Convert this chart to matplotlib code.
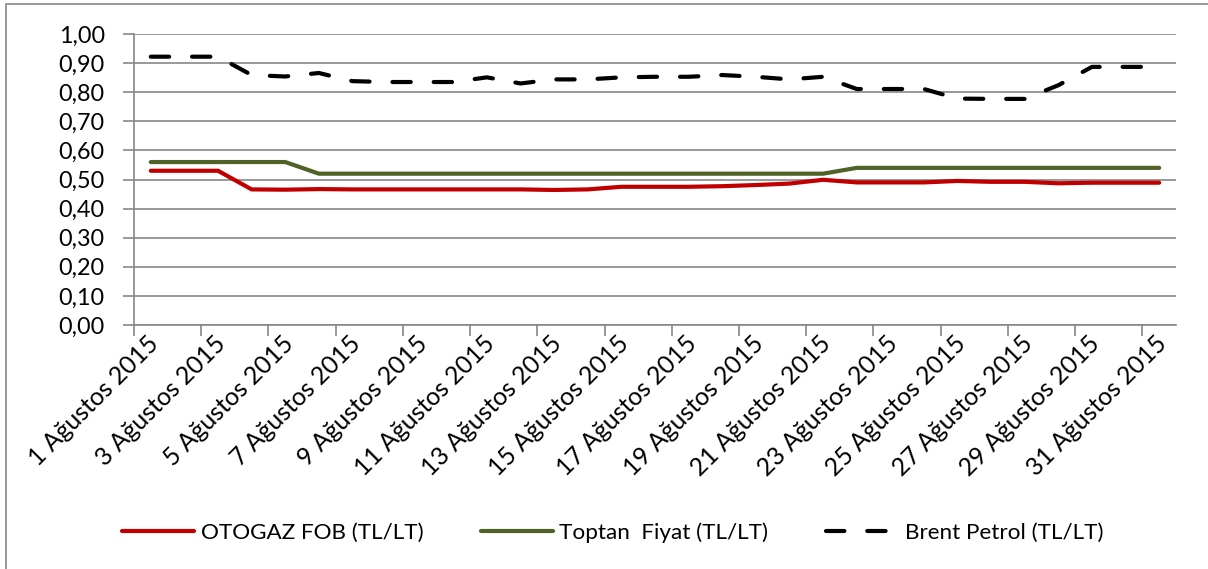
import matplotlib
matplotlib.use('Agg')
import matplotlib.pyplot as plt
import matplotlib.transforms as mtransforms
from matplotlib.lines import Line2D
from matplotlib.patches import Rectangle
from matplotlib.ticker import FuncFormatter
import numpy as np

plt.rcParams['font.family'] = ['Lato', 'DejaVu Sans']

days = list(range(1, 32))
categories = [f"{d} Ağustos 2015" for d in days]

otogaz = [0.530, 0.530, 0.530, 0.466, 0.465, 0.467, 0.466, 0.466, 0.466, 0.466,
          0.466, 0.466, 0.464, 0.466, 0.475, 0.475, 0.475, 0.477, 0.481, 0.486,
          0.499, 0.490, 0.490, 0.490, 0.495, 0.492, 0.492, 0.487, 0.489, 0.489,
          0.489]
toptan = [0.56, 0.56, 0.56, 0.56, 0.56, 0.52, 0.52, 0.52, 0.52, 0.52,
          0.52, 0.52, 0.52, 0.52, 0.52, 0.52, 0.52, 0.52, 0.52, 0.52,
          0.52, 0.54, 0.54, 0.54, 0.54, 0.54, 0.54, 0.54, 0.54, 0.54,
          0.54]
brent = [0.922, 0.922, 0.922, 0.859, 0.854, 0.866, 0.838, 0.835, 0.835, 0.835,
         0.851, 0.830, 0.844, 0.844, 0.851, 0.853, 0.853, 0.859, 0.853, 0.844,
         0.853, 0.811, 0.811, 0.811, 0.778, 0.777, 0.777, 0.824, 0.887, 0.887,
         0.887]

series_names = ["OTOGAZ FOB (TL/LT)", "Toptan  Fiyat (TL/LT)", "Brent Petrol (TL/LT)"]
yticks = [0.0, 0.1, 0.2, 0.3, 0.4, 0.5, 0.6, 0.7, 0.8, 0.9, 1.0]

W, H = 1208, 569
fig = plt.figure(figsize=(W / 100, H / 100), dpi=100)
ax = fig.add_axes([134 / W, 1 - 325 / H, (1176 - 134) / W, (325 - 34) / H])

x = np.arange(len(days))
lw = 3.0
RED = '#C00000'
GREEN = '#4F6228'
GRAY = '#878787'

l1, = ax.plot(x, otogaz, color=RED, lw=lw, solid_capstyle='round', solid_joinstyle='round', zorder=3)
l2, = ax.plot(x, toptan, color=GREEN, lw=lw, solid_capstyle='round', solid_joinstyle='round', zorder=3)
l3, = ax.plot(x, brent, color='black', lw=lw, dash_capstyle='round', dash_joinstyle='round', zorder=3)
l3.set_dashes((4.4, 5.5))

ax.set_xlim(-0.5, len(days) - 0.5)
ax.set_ylim(0, 1.0)
ax.set_yticks(yticks)
ax.yaxis.set_major_formatter(FuncFormatter(lambda v, p: f"{v:.2f}".replace('.', ',')))

ax.set_xticks(np.arange(-0.5, len(days) - 1, 2))
ax.set_xticklabels([])
ax.set_xticks(x[::2], minor=True)
ax.set_xticklabels(categories[::2], minor=True, rotation=45, ha='right',
                   va='center', rotation_mode='anchor', fontsize=17.8)
ax.tick_params(axis='x', which='minor', length=0, pad=11)
ax.tick_params(axis='x', which='major', length=8, width=1.2, color=GRAY)
ax.tick_params(axis='y', length=8, width=1.2, color=GRAY, pad=13, labelsize=16.8)

off = mtransforms.ScaledTranslation(4 / 100, 0, fig.dpi_scale_trans)
for lab in ax.xaxis.get_minorticklabels():
    lab.set_transform(lab.get_transform() + off)

ax.yaxis.grid(True, color=GRAY, lw=1.2)
ax.set_axisbelow(True)
for s in ['top', 'right']:
    ax.spines[s].set_visible(False)
for s in ['left', 'bottom']:
    ax.spines[s].set_color(GRAY)
    ax.spines[s].set_linewidth(1.2)

# outer frame
fig.patches.append(Rectangle((6 / W, -0.1), 1.2, 1 - 4.5 / H + 0.1, transform=fig.transFigure,
                             fill=False, edgecolor=GRAY, lw=1.2, zorder=0))

handles = [Line2D([], [], color=RED, lw=lw, solid_capstyle='round'),
           Line2D([], [], color=GREEN, lw=lw, solid_capstyle='round'),
           Line2D([], [], color='black', lw=lw, dash_capstyle='round', dashes=(4.4, 5.5))]
fig.legend(handles, series_names, loc='center', bbox_to_anchor=(0.507, 1 - 533 / H), ncol=3,
           frameon=False, handlelength=3.2, handletextpad=0.3, columnspacing=2.55, fontsize=16.2)

fig.savefig('out.png', dpi=100)
